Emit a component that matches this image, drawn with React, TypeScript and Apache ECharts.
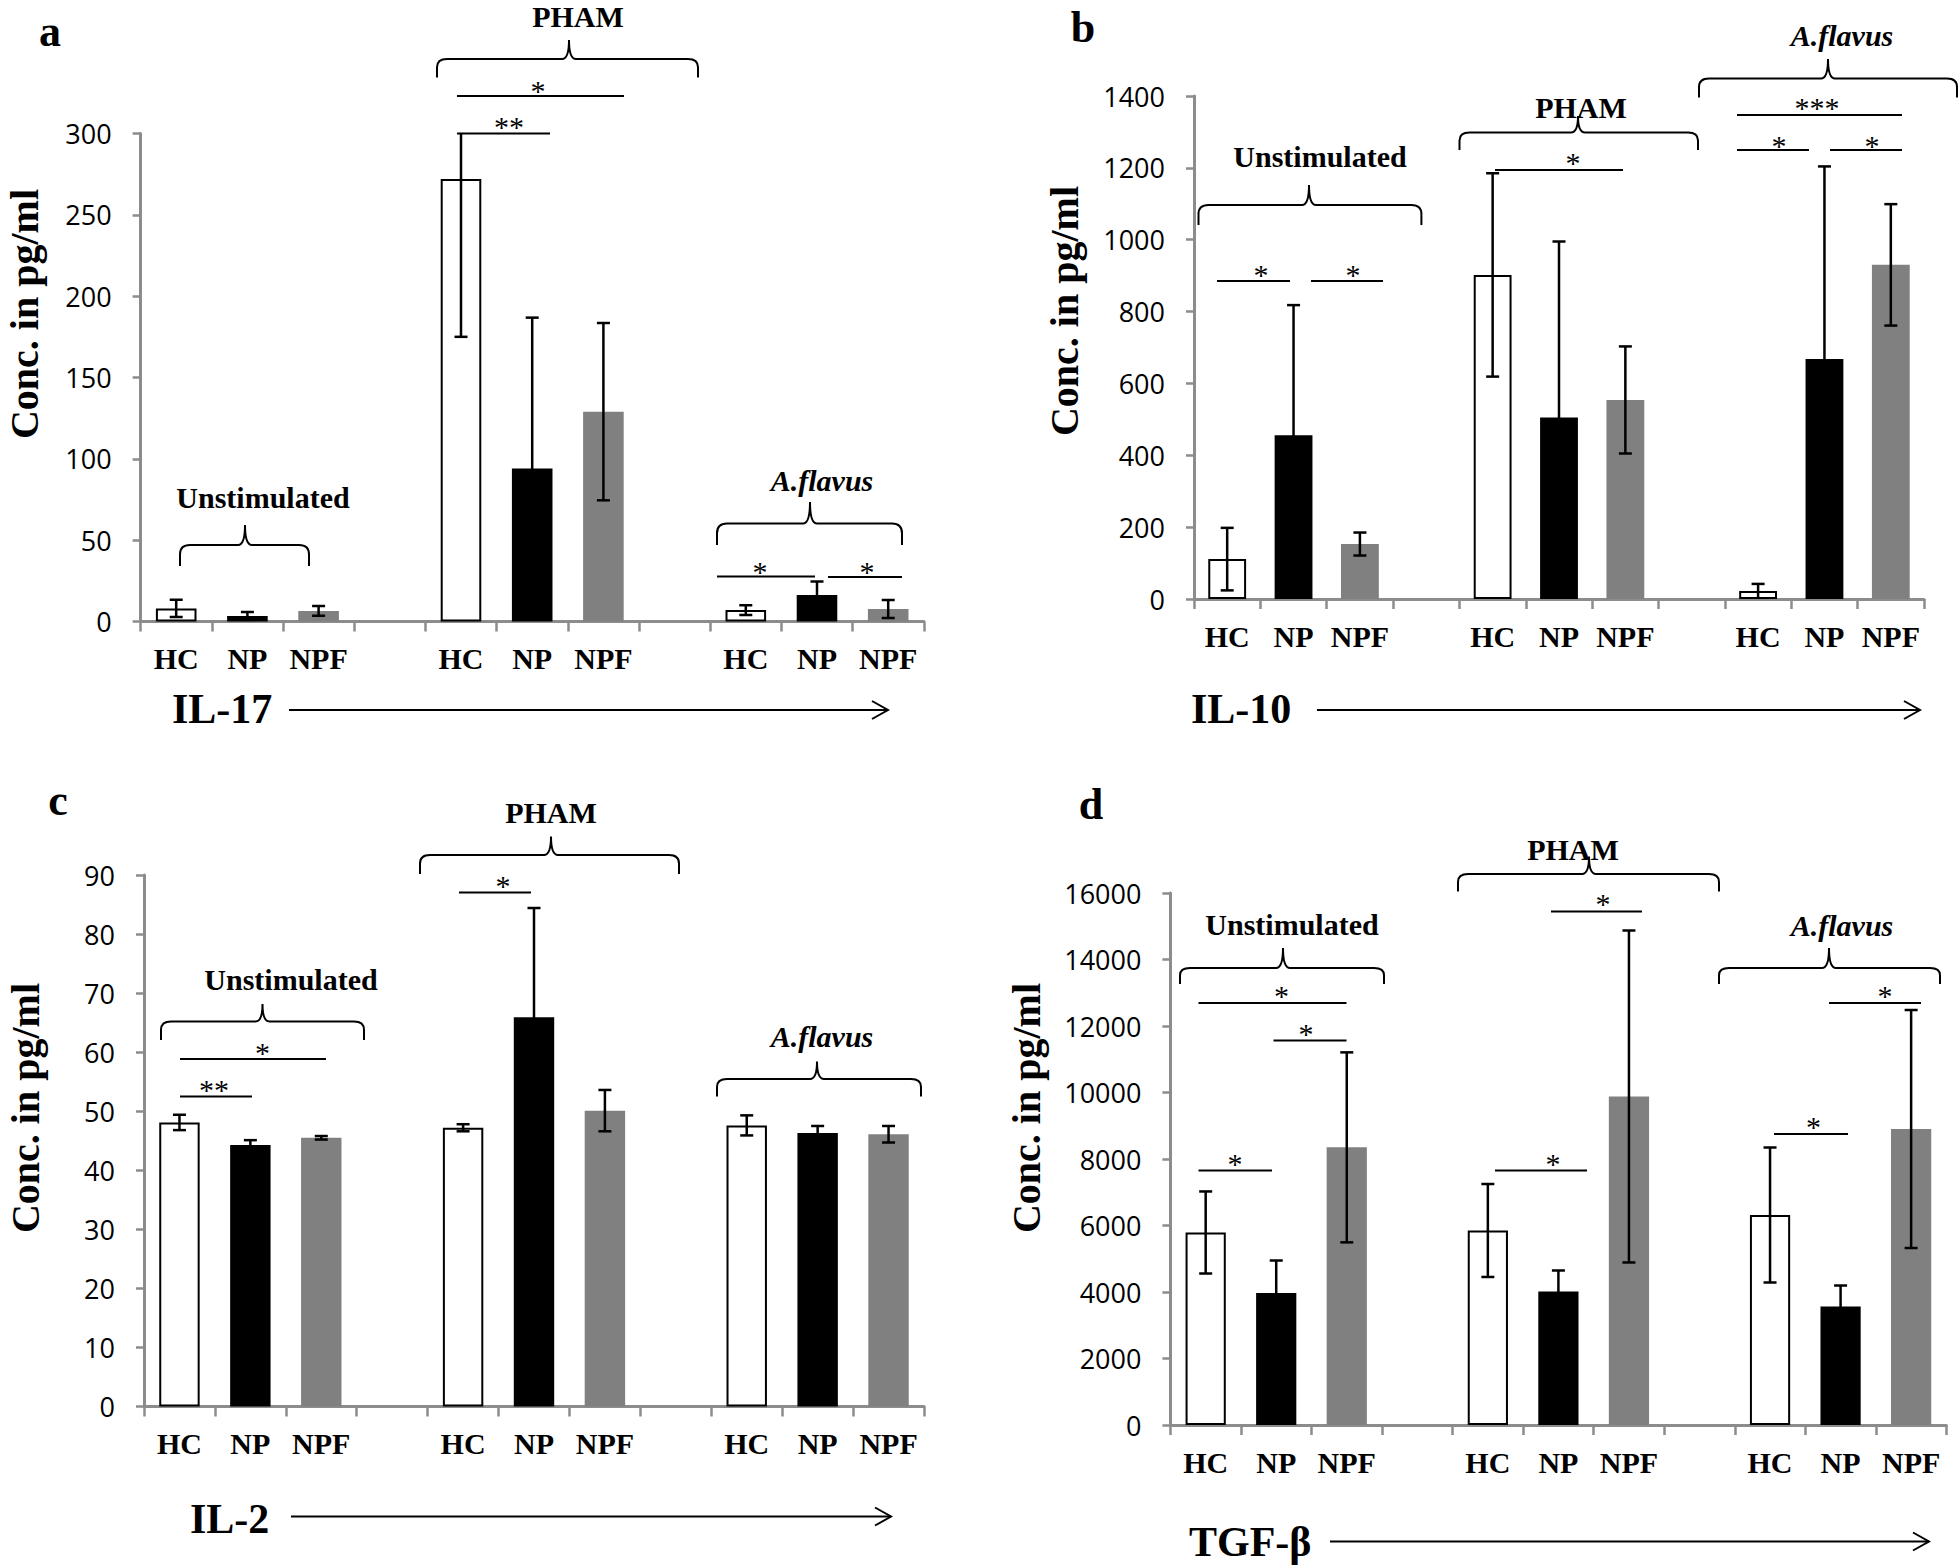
import React, { useEffect, useRef } from 'react';
import * as echarts from 'echarts';

// ---------- data ----------
const subjects = ['HC', 'NP', 'NPF'];
const conditions = ['Unstimulated', 'PHAM', 'A.flavus'];
const cytokines = ['IL-17', 'IL-10', 'IL-2', 'TGF-β'];
const panelLetters = ['a', 'b', 'c', 'd'];

// means [condition][subject]
const il17Means = [[8, 3.4, 6.5], [272, 94, 129], [7, 16.3, 7.7]];
const il17Err = [[5.3, 2.5, 3], [97, 92.8, 54.5], [3, 8.3, 5.5]];
const il10Means = [[111, 456, 153], [902, 505, 554], [22, 668, 930]];
const il10Err = [[87, 362, 32], [283, 490, 149], [20, 536, 169]];
const il2Means = [[48.1, 44.3, 45.5], [47.2, 65.9, 50.1], [47.6, 46.3, 46.1]];
const il2Err = [[1.3, 0.8, 0.3], [0.6, 18.5, 3.5], [1.7, 1.2, 1.4]];
const tgfMeans = [[5790, 3970, 8350], [5850, 4015, 9880], [6316, 3564, 8902]];
const tgfErr = [[1234, 977, 2857], [1398, 632, 4992], [2030, 631, 3579]];

const yMax = [300, 1400, 90, 16000];
const yStep = [50, 200, 10, 2000];

const allMeans = [il17Means, il10Means, il2Means, tgfMeans];
const allErrs = [il17Err, il10Err, il2Err, tgfErr];

const categories: string[] = [];
conditions.forEach((c, i) => {
  subjects.forEach((s) => categories.push(c + '|' + s));
  if (i < conditions.length - 1) categories.push('gap' + i);
});

// ---------- layout / annotations (pixel positions) ----------
const layout = [
  {
    grid: { left: 140.6, top: 133.5, width: 783.2, height: 488 },
    letter: [50, 31], cyto: [172, 709], arrow: [289, 888, 710], ytitle: [24, 314],
    groupText: [[263, 497], [578, 16], [822, 480]],
    braces: [[180, 309, 245, 545, 21, 20], [437, 698, 569, 59, 18.5, 19], [717, 902, 810, 523.5, 21.5, 21.5]],
    sigLines: [[457, 96, 624, 96], [457, 133.5, 550, 133.5], [717, 576.5, 815, 576.5], [828, 577, 902, 577]],
    stars: [[538, 85, '*'], [509, 121, '**'], [760, 566, '*'], [867, 566, '*']],
  },
  {
    grid: { left: 1194, top: 96, width: 730, height: 503 },
    letter: [1083, 27], cyto: [1191, 709], arrow: [1317, 1920, 710], ytitle: [1064, 311],
    groupText: [[1320, 156], [1581, 107.5], [1842, 35]],
    braces: [[1198.5, 1421.4, 1309, 205, 20, 20], [1459.5, 1698, 1578, 132.5, 17.5, 16.5], [1699, 1957, 1828, 78.5, 19, 19.5]],
    sigLines: [[1217, 281, 1290, 281], [1311, 281, 1383, 281], [1495, 170, 1623, 170], [1737, 115, 1902, 115], [1737, 150, 1809, 150], [1830, 150, 1902, 150]],
    stars: [[1261, 269, '*'], [1353, 269, '*'], [1573, 157, '*'], [1817, 102, '***'], [1779, 140, '*'], [1872, 140, '*']],
  },
  {
    grid: { left: 144, top: 875, width: 780, height: 531.5 },
    letter: [58, 800], cyto: [190, 1519], arrow: [291, 891, 1516.5], ytitle: [25, 1108],
    groupText: [[291, 979], [551, 812.5], [822, 1036.5]],
    braces: [[161, 364, 262.5, 1021.5, 18.5, 17.5], [420, 679, 551, 855, 19, 18.5], [717, 921, 817, 1079, 17.5, 17.5]],
    sigLines: [[459, 892.5, 531, 892.5], [180, 1059, 326, 1059], [180, 1096.5, 252, 1096.5]],
    stars: [[503, 880, '*'], [262.5, 1047.5, '*'], [214, 1084, '**']],
  },
  {
    grid: { left: 1170.4, top: 893, width: 776, height: 532 },
    letter: [1091, 804], cyto: [1189, 1542], arrow: [1330, 1929, 1541.5], ytitle: [1026, 1108],
    groupText: [[1292, 924], [1573, 849], [1842, 925.5]],
    braces: [[1180, 1384, 1283, 968, 16, 20], [1458, 1719, 1589, 874, 17.5, 17.5], [1719, 1940, 1829, 968, 16, 20]],
    sigLines: [[1551, 911.5, 1642, 911.5], [1198.5, 1003, 1346.5, 1003], [1273.5, 1040.5, 1346.5, 1040.5], [1198.5, 1170.5, 1272, 1170.5], [1495, 1170.5, 1587, 1170.5], [1829, 1003, 1921, 1003], [1774, 1134, 1848, 1134]],
    stars: [[1603, 898, '*'], [1281.6, 990, '*'], [1306, 1028, '*'], [1235, 1158, '*'], [1553, 1158, '*'], [1885, 990, '*'], [1813.5, 1121.5, '*']],
  },
];

const SERIF = '"Liberation Serif", "Times New Roman", serif';
const SANS = '"Open Sans", "Liberation Sans", sans-serif';
const AXIS_GRAY = '#8c8c8c';
const subjectStyle = [
  { color: '#ffffff', borderColor: '#000000', borderWidth: 2 },
  { color: '#000000', borderWidth: 0 },
  { color: '#808080', borderWidth: 0 },
];

function bracePath(x0: number, x1: number, xc: number, yH: number, hEnd: number, hTip: number) {
  const r = 10;
  const t = 7;
  return `M${x0} ${yH + hEnd} L${x0} ${yH + hEnd * 0.45} Q${x0} ${yH} ${x0 + r} ${yH} L${xc - t} ${yH} Q${xc} ${yH} ${xc} ${yH - hTip} Q${xc} ${yH} ${xc + t} ${yH} L${x1 - r} ${yH} Q${x1} ${yH} ${x1} ${yH + hEnd * 0.45} L${x1} ${yH + hEnd}`;
}

export default function App() {
  const ref = useRef<HTMLDivElement>(null);
  useEffect(() => {
    document.body.style.margin = '0';
    const el = ref.current;
    if (!el) return;
    const chart = echarts.init(el, null, { renderer: 'svg' });

    const grids: any[] = [];
    const xAxes: any[] = [];
    const yAxes: any[] = [];
    const series: any[] = [];
    const graphics: any[] = [];

    layout.forEach((L, p) => {
      grids.push({ ...L.grid, containLabel: false, outerBoundsMode: 'none' });
      xAxes.push({
        type: 'category', gridIndex: p, data: categories,
        axisLine: { lineStyle: { color: AXIS_GRAY, width: 3 } },
        axisTick: { show: true, length: 10, lineStyle: { color: AXIS_GRAY, width: 2.5 } },
        axisLabel: {
          interval: 0, margin: 22, color: '#000', fontFamily: SERIF, fontWeight: 'bold', fontSize: 30,
          formatter: (v: string) => (v.indexOf('|') >= 0 ? v.split('|')[1] : ''),
        },
        splitLine: { show: false },
      });
      yAxes.push({
        type: 'value', gridIndex: p, min: 0, max: yMax[p], interval: yStep[p],
        axisLine: { show: true, lineStyle: { color: AXIS_GRAY, width: 3 } },
        axisTick: { show: true, length: 8, lineStyle: { color: AXIS_GRAY, width: 2.5 } },
        axisLabel: { margin: 29, color: '#000', fontFamily: SANS, fontSize: 27, formatter: (v: number) => String(v) },
        splitLine: { show: false },
      });

      const means = allMeans[p];
      const errs = allErrs[p];
      const barData: any[] = categories.map(() => '-');
      const errData: any[] = [];
      conditions.forEach((_, c) => {
        subjects.forEach((_, s) => {
          const idx = c * 4 + s;
          barData[idx] = { value: means[c][s], itemStyle: subjectStyle[s] };
          errData.push([idx, means[c][s], errs[c][s]]);
        });
      });
      series.push({
        type: 'bar', xAxisIndex: p, yAxisIndex: p, data: barData, barWidth: '57%', z: 2, silent: true,
      });
      series.push({
        type: 'custom', xAxisIndex: p, yAxisIndex: p, coordinateSystem: 'cartesian2d', clip: true, z: 3, silent: true,
        encode: { x: 0, y: 1 },
        data: errData,
        renderItem: (_params: any, api: any) => {
          const x = api.value(0);
          const m = api.value(1);
          const e = api.value(2);
          const top = api.coord([x, m + e]);
          const bot = api.coord([x, m - e]);
          const hw = 6.5;
          const st = { stroke: '#000', lineWidth: 2.5 };
          return {
            type: 'group',
            children: [
              { type: 'line', shape: { x1: top[0], y1: top[1], x2: bot[0], y2: bot[1] }, style: st },
              { type: 'line', shape: { x1: top[0] - hw, y1: top[1], x2: top[0] + hw, y2: top[1] }, style: st },
              { type: 'line', shape: { x1: bot[0] - hw, y1: bot[1], x2: bot[0] + hw, y2: bot[1] }, style: st },
            ],
          };
        },
      });

      // annotations
      L.braces.forEach((b, j) => {
        const name = `brace_${p}_${j}`;
        echarts.graphic.registerShape(
          name,
          echarts.graphic.extendPath(bracePath(b[0], b[1], b[2], b[3], b[4], b[5]), {}) as any
        );
        graphics.push({ type: name, x: 0, y: 0, silent: true, style: { fill: 'none', stroke: '#000', lineWidth: 2 } });
      });
      conditions.forEach((c, j) => {
        const [tx, ty] = L.groupText[j];
        graphics.push({
          type: 'text', x: tx, y: ty, silent: true,
          style: {
            text: c, fill: '#000', fontFamily: SERIF, fontWeight: 'bold', fontSize: 30,
            fontStyle: j === 2 ? 'italic' : 'normal', align: 'center', verticalAlign: 'middle',
          },
        });
      });
      L.sigLines.forEach((ln) => {
        graphics.push({
          type: 'line', silent: true, shape: { x1: ln[0], y1: ln[1], x2: ln[2], y2: ln[3] },
          style: { stroke: '#000', lineWidth: 2 },
        });
      });
      L.stars.forEach((s) => {
        graphics.push({
          type: 'text', x: s[0] as number, y: (s[1] as number) + 5, silent: true,
          style: { text: s[2] as string, fill: '#000', fontFamily: SERIF, fontSize: 30, align: 'center', verticalAlign: 'middle' },
        });
      });
      graphics.push({
        type: 'text', x: L.letter[0], y: L.letter[1], silent: true,
        style: { text: panelLetters[p], fill: '#000', fontFamily: SERIF, fontWeight: 'bold', fontSize: 44, align: 'center', verticalAlign: 'middle' },
      });
      graphics.push({
        type: 'text', x: L.cyto[0], y: L.cyto[1], silent: true,
        style: { text: cytokines[p], fill: '#000', fontFamily: SERIF, fontWeight: 'bold', fontSize: 42, align: 'left', verticalAlign: 'middle' },
      });
      const [ax0, ax1, ay] = L.arrow;
      graphics.push({
        type: 'line', silent: true, shape: { x1: ax0, y1: ay, x2: ax1, y2: ay },
        style: { stroke: '#000', lineWidth: 2 },
      });
      graphics.push({
        type: 'polyline', silent: true, shape: { points: [[ax1 - 16, ay - 9], [ax1, ay], [ax1 - 16, ay + 9]] },
        style: { stroke: '#000', lineWidth: 2, fill: 'none' },
      });
      graphics.push({
        type: 'text', x: L.ytitle[0], y: L.ytitle[1], rotation: Math.PI / 2, silent: true,
        style: { text: 'Conc. in pg/ml', fill: '#000', fontFamily: SERIF, fontWeight: 'bold', fontSize: 40, align: 'center', verticalAlign: 'middle' },
      });
    });

    chart.setOption({
      animation: false,
      backgroundColor: '#ffffff',
      grid: grids,
      xAxis: xAxes,
      yAxis: yAxes,
      series,
      graphic: graphics,
    });
    return () => chart.dispose();
  }, []);
  return <div ref={ref} style={{ width: 1959, height: 1568 }} />;
}
